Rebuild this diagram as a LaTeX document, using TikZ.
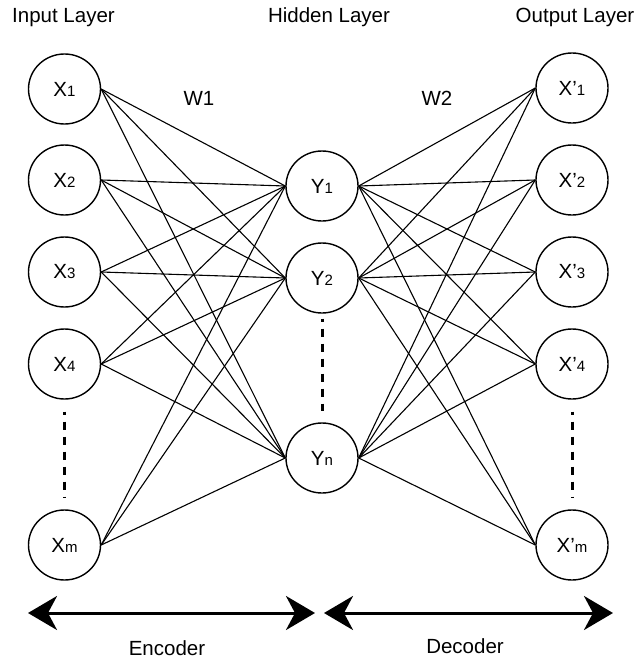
\documentclass[tikz,border=0pt]{standalone}
\usepackage{fontspec}
\setmainfont{Liberation Sans}
\usetikzlibrary{arrows.meta,shapes.geometric}
% smaller digit / letter set on the same baseline as the main letter
\newcommand\lowsub[1]{{\fontsize{15}{18}\selectfont #1}}
\begin{document}
\begin{tikzpicture}[x=1pt,y=-1pt,
  neuron/.style={ellipse, draw, line width=1.4pt, minimum width=72pt,
    minimum height=70pt, inner sep=0pt, font=\fontsize{20.5}{24}\selectfont},
  link/.style={line width=1.1pt},
  vdots/.style={line width=3pt, dash pattern=on 8pt off 7pt, dash phase=5pt},
  span/.style={line width=3pt, {Stealth[length=29pt,width=34pt,inset=9pt]}-{Stealth[length=29pt,width=34pt,inset=9pt]}},
  tag/.style={font=\fontsize{20.5}{24}\selectfont, inner sep=0pt, anchor=base}]
\useasboundingbox (0,0) rectangle (637,661);

% layer titles
\node[tag] (tin)  at (63.5,23) {Input Layer};
\node[tag] (thid) at (329,23)  {Hidden Layer};
\node[tag] (tout) at (575,23)  {Output Layer};
\node[tag] (w1) at (199,105) {W1};
\node[tag] (w2) at (437,105) {W2};

% input layer
\node[neuron] (x1) at (64.5,89)  {X\lowsub{1}};
\node[neuron] (x2) at (64.5,180) {X\lowsub{2}};
\node[neuron] (x3) at (64.5,272) {X\lowsub{3}};
\node[neuron] (x4) at (64.5,364) {X\lowsub{4}};
\node[neuron] (xm) at (64.5,545) {X\lowsub{m}};

% hidden layer
\node[neuron] (y1) at (322,186) {Y\lowsub{1}};
\node[neuron] (y2) at (322,278) {Y\lowsub{2}};
\node[neuron] (yn) at (322,458) {Y\lowsub{n}};

% output layer
\node[neuron] (o1) at (572,88)  {X’\lowsub{1}};
\node[neuron] (o2) at (572,180) {X’\lowsub{2}};
\node[neuron] (o3) at (572,272) {X’\lowsub{3}};
\node[neuron] (o4) at (572,364) {X’\lowsub{4}};
\node[neuron] (om) at (572,545) {X’\lowsub{m}};

% weights W1 and W2
\foreach \a in {x1,x2,x3,x4,xm}
  \foreach \b in {y1,y2,yn}
    \draw[link] (\a.east) -- (\b.west);
\foreach \a in {y1,y2,yn}
  \foreach \b in {o1,o2,o3,o4,om}
    \draw[link] (\a.east) -- (\b.west);

% elided units
\draw[vdots] ([yshift=-12pt]x4.south) -- ([yshift=12pt]xm.north);
\draw[vdots] ([yshift=-5pt]y2.south) -- ([yshift=11pt]yn.north);
\draw[vdots] ([yshift=-12pt]o4.south) -- ([yshift=12pt]om.north);

% encoder / decoder spans
\coordinate (e1) at (28,613);
\coordinate (e2) at (315,613);
\coordinate (d1) at (324,613);
\coordinate (d2) at (613,613);
\draw[span] (e1) -- (e2);
\draw[span] (d1) -- (d2);
\node[tag] (enc) at (167,655) {Encoder};
\node[tag] (dec) at (465,653) {Decoder};
\end{tikzpicture}
\end{document}
